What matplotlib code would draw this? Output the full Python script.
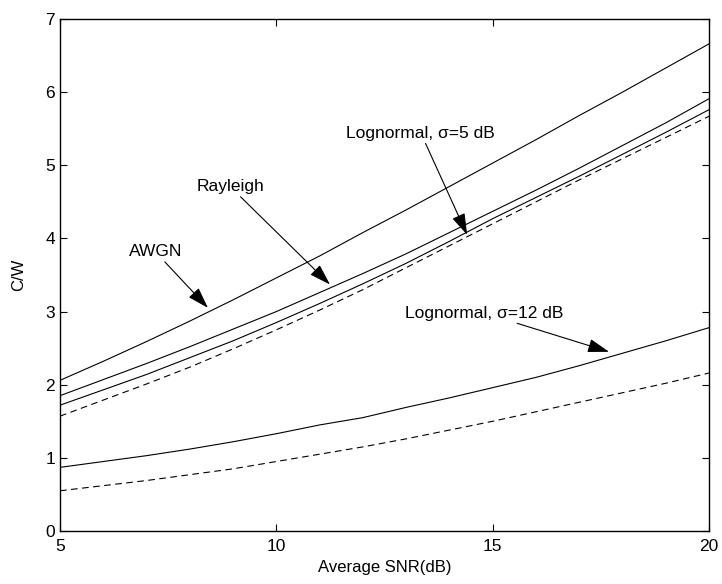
import matplotlib
matplotlib.use("Agg")
import matplotlib.pyplot as plt

snr_db = [5, 6, 7, 8, 9, 10, 11, 12, 13, 14, 15, 16, 17, 18, 19, 20]

awgn = [2.06, 2.32, 2.59, 2.87, 3.16, 3.46, 3.76, 4.08, 4.39, 4.71, 5.03, 5.35, 5.68, 6.00, 6.33, 6.66]
rayleigh = [1.85, 2.07, 2.29, 2.52, 2.76, 3.00, 3.26, 3.52, 3.79, 4.08, 4.37, 4.66, 4.96, 5.27, 5.58, 5.91]
logn5_solid = [1.72, 1.93, 2.14, 2.37, 2.60, 2.85, 3.11, 3.38, 3.66, 3.96, 4.27, 4.56, 4.85, 5.15, 5.45, 5.76]
logn5_dashed = [1.57, 1.79, 2.01, 2.24, 2.49, 2.75, 3.02, 3.30, 3.60, 3.90, 4.20, 4.50, 4.80, 5.09, 5.38, 5.67]
logn12_solid = [0.87, 0.95, 1.03, 1.12, 1.22, 1.33, 1.45, 1.55, 1.69, 1.82, 1.96, 2.10, 2.26, 2.43, 2.60, 2.78]
logn12_dashed = [0.55, 0.62, 0.69, 0.77, 0.85, 0.95, 1.05, 1.15, 1.26, 1.38, 1.50, 1.63, 1.76, 1.89, 2.02, 2.16]

x_ticks = [5, 10, 15, 20]
y_ticks = [0, 1, 2, 3, 4, 5, 6, 7]

plt.rcParams['font.family'] = ['Liberation Sans', 'DejaVu Sans']

fig = plt.figure(figsize=(7.22, 5.84), dpi=100)
ax = fig.add_axes([60/722, 1 - 531/584, (709-60)/722, (531-19)/584])

lw = 0.8
ax.plot(snr_db, awgn, color='black', lw=lw)
ax.plot(snr_db, rayleigh, color='black', lw=lw)
ax.plot(snr_db, logn5_solid, color='black', lw=lw)
ax.plot(snr_db, logn5_dashed, color='black', lw=lw, dashes=(6, 4))
ax.plot(snr_db, logn12_solid, color='black', lw=lw)
ax.plot(snr_db, logn12_dashed, color='black', lw=lw, dashes=(6, 4))

ax.set_xlim(5, 20)
ax.set_ylim(0, 7)
ax.set_xticks(x_ticks)
ax.set_yticks(y_ticks)
ax.tick_params(direction='in', top=True, right=True, labelsize=12.5, length=5, width=0.8)
ax.tick_params(axis='x', pad=6)
for s in ax.spines.values():
    s.set_linewidth(1.0)

ax.set_xlabel('Average SNR(dB)', fontsize=12, labelpad=4)
ax.set_ylabel('C/W', fontsize=12, labelpad=14)

ap = dict(arrowstyle='-|>,head_length=1.1,head_width=0.35', color='black', lw=0.8,
          mutation_scale=12, shrinkA=0, shrinkB=0)
fs = 12.5
ax.annotate('AWGN', xy=(8.42, 3.05), xytext=(7.2, 3.82), fontsize=fs,
            ha='center', va='center', arrowprops=ap)
ax.annotate('Rayleigh', xy=(11.24, 3.37), xytext=(8.93, 4.71), fontsize=fs,
            ha='center', va='center', arrowprops=ap)
ax.annotate('Lognormal, σ=5 dB', xy=(14.41, 4.05), xytext=(13.34, 5.44), fontsize=fs,
            ha='center', va='center', arrowprops=ap)
ax.annotate('Lognormal, σ=12 dB', xy=(17.69, 2.45), xytext=(14.8, 2.98), fontsize=fs,
            ha='center', va='center', arrowprops=ap)

fig.savefig('out.png', dpi=100)
